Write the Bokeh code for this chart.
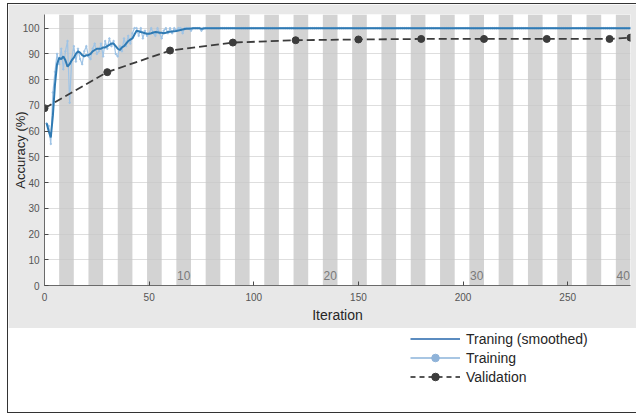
from bokeh.plotting import figure
from bokeh.models import Range1d, ColumnDataSource, Legend, LegendItem, FixedTicker
from bokeh.layouts import column
from bokeh.embed import file_html
from bokeh.resources import INLINE
from bokeh.core.properties import value

FONT = "Liberation Sans"

# ---------------- data ----------------
iterations_per_epoch = 7
num_epochs = 40
epoch_labels = [10, 20, 30, 40]

train_iter = list(range(1, 281))
train_acc = [
    63, 62, 55, 75, 83, 90, 86, 92, 84, 91,
    95, 71, 88, 93, 87, 92, 88, 86, 91, 93,
    89, 88, 92, 94, 90, 91, 94, 89, 95, 92,
    96, 93, 95, 90, 89, 93, 91, 96, 93, 97,
    94, 98, 100, 100, 97, 100, 96, 99, 97, 98,
    100, 98, 97, 100, 98, 96, 99, 100, 98, 100,
    98, 100, 99, 100, 100, 98, 100, 100, 100, 99,
    100, 100, 100, 100, 99, 100, 100, 100, 100, 100,
] + [
    100, 100, 100, 100, 100, 100, 100, 100, 100, 100, 100, 100, 100, 100, 100, 100, 100, 100, 100, 100,
    100, 100, 100, 100, 100, 100, 100, 100, 100, 100, 100, 100, 100, 100, 100, 100, 100, 100, 100, 100,
    100, 100, 100, 100, 100, 100, 100, 100, 100, 100, 100, 100, 100, 100, 100, 100, 100, 100, 100, 100,
    100, 100, 100, 100, 100, 100, 100, 100, 100, 100, 100, 100, 100, 100, 100, 100, 100, 100, 100, 100,
    100, 100, 100, 100, 100, 100, 100, 100, 100, 100, 100, 100, 100, 100, 100, 100, 100, 100, 100, 100,
    100, 100, 100, 100, 100, 100, 100, 100, 100, 100, 100, 100, 100, 100, 100, 100, 100, 100, 100, 100,
    100, 100, 100, 100, 100, 100, 100, 100, 100, 100, 100, 100, 100, 100, 100, 100, 100, 100, 100, 100,
    100, 100, 100, 100, 100, 100, 100, 100, 100, 100, 100, 100, 100, 100, 100, 100, 100, 100, 100, 100,
    100, 100, 100, 100, 100, 100, 100, 100, 100, 100, 100, 100, 100, 100, 100, 100, 100, 100, 100, 100,
    100, 100, 100, 100, 100, 100, 100, 100, 100, 100, 100, 100, 100, 100, 100, 100, 100, 100, 100, 100,
]
smooth_acc = [
    63, 60, 57.5, 66, 78, 86, 88.5, 88, 89, 87.5,
    85, 86, 87.5, 88.5, 90, 91, 90.5, 89.5, 89, 89.5,
    89.5, 90, 91, 91.5, 92, 92, 92, 92.5, 92.5, 93,
    93.5, 94, 94, 93, 92, 91.5, 92.5, 93, 94, 95,
    95.5, 96, 97.5, 99, 98.8, 98.5, 98.3, 98, 97.8, 97.8,
    98, 98.3, 98.5, 98.4, 98.2, 98.2, 98, 98.2, 98.5, 98.6,
    98.7, 98.8, 98.9, 99.1, 99.3, 99.5, 99.7, 99.8, 99.8, 99.9,
    100, 100, 100, 100, 99.8, 99.9, 100, 100, 100, 100,
] + [100] * 200

val_iter = [0, 30, 60, 90, 120, 150, 180, 210, 240, 270, 280]
val_acc = [68.9, 82.9, 91.3, 94.4, 95.3, 95.6, 95.8, 95.8, 95.8, 95.8, 96.3]

y_ticks = [0, 10, 20, 30, 40, 50, 60, 70, 80, 90, 100]
x_ticks = [0, 50, 100, 150, 200, 250]

# ---------------- styles ----------------
SMOOTH_C = "#2f7ab3"
RAW_C = "#9fc4e6"
VAL_C = "#3c3c3c"
BAND_C = "#d3d3d3"
BORDER_C = "#e8e8e8"
LEFT = 36

p = figure(width=628, height=324, output_backend="svg", toolbar_location=None,
           x_range=Range1d(0, 280), y_range=Range1d(0, 105.3),
           min_border_left=LEFT, min_border_right=6, min_border_top=10, min_border_bottom=43)
p.border_fill_color = BORDER_C
p.background_fill_color = "white"
p.outline_line_color = None

# epoch bands (even epochs shaded)
band_left = [(e - 1) * iterations_per_epoch for e in range(2, num_epochs + 1, 2)]
band_right = [e * iterations_per_epoch for e in range(2, num_epochs + 1, 2)]
bands = p.quad(left=band_left, right=band_right, bottom=0, top=105.3,
               fill_color=BAND_C, line_color=None)
bands.level = "image"

# epoch labels
p.text(x=[(e - 0.5) * iterations_per_epoch for e in epoch_labels], y=[2] * len(epoch_labels),
       text=[str(e) for e in epoch_labels], text_align="center", text_baseline="bottom",
       text_font=value(FONT), text_font_size="12px", text_color="#7a7a7a")

raw_r = p.line(train_iter, train_acc, line_color=RAW_C, line_width=1.2)
raw_m = p.scatter(train_iter, train_acc, size=1.5, color=RAW_C)
smooth_r = p.line(train_iter, smooth_acc, line_color=SMOOTH_C, line_width=2)
val_l = p.line(val_iter, val_acc, line_color=VAL_C, line_width=1.8, line_dash="8 4")
val_m = p.scatter(val_iter, val_acc, size=7, color=VAL_C)

# axes
for ax in (p.xaxis[0], p.yaxis[0]):
    ax.major_tick_in = 4
    ax.major_tick_out = 0
    ax.minor_tick_in = 0
    ax.minor_tick_out = 0
    ax.axis_line_color = "#6a6a6a"
    ax.major_tick_line_color = "#4a4a4a"
    ax.major_label_text_font = FONT
    ax.major_label_text_font_size = "10px"
    ax.major_label_text_color = "#555555"
    ax.axis_label_text_font = FONT
    ax.axis_label_text_font_style = "normal"
    ax.axis_label_text_color = "#262626"

p.yaxis[0].ticker = FixedTicker(ticks=y_ticks)
p.xaxis[0].ticker = FixedTicker(ticks=x_ticks)
p.yaxis[0].axis_label = "Accuracy (%)"
p.yaxis[0].axis_label_text_font_size = "13px"
p.yaxis[0].axis_label_standoff = -8
p.yaxis[0].major_label_standoff = 5
p.xaxis[0].axis_label = "Iteration"
p.xaxis[0].axis_label_text_font_size = "14px"
p.xaxis[0].axis_label_standoff = 3
p.xaxis[0].major_label_standoff = 7

p.xgrid.visible = False
p.ygrid.ticker = FixedTicker(ticks=y_ticks)
p.ygrid.grid_line_color = "#c8c8c8"
p.ygrid.grid_line_alpha = 0.6

# ---------------- legend panel ----------------
q = figure(width=628, height=84, output_backend="svg", toolbar_location=None,
           x_range=Range1d(0, 1), y_range=Range1d(0, 1),
           x_axis_location=None, y_axis_location=None, min_border=0)
q.grid.visible = False
q.outline_line_color = None
q.background_fill_color = "white"
q.border_fill_color = "white"

def dummy():
    return ColumnDataSource(dict(x=[5, 6], y=[5, 6]))

l1 = q.line("x", "y", source=dummy(), line_color="#5b8cc0", line_width=2)
l2 = q.line("x", "y", source=dummy(), line_color="#a8c6e3", line_width=2)
m2 = q.scatter("x", "y", source=dummy(), size=5, color="#8fb3d9")
l3 = q.line("x", "y", source=dummy(), line_color="#555555", line_width=1.8, line_dash="5 4")
m3 = q.scatter("x", "y", source=dummy(), size=7, color="#3c3c3c")

legend = Legend(items=[
    LegendItem(label="Traning (smoothed)", renderers=[l1]),
    LegendItem(label="Training", renderers=[l2, m2]),
    LegendItem(label="Validation", renderers=[l3, m3]),
], location=(402 - LEFT, 26))
legend.background_fill_alpha = 0
legend.border_line_color = None
legend.margin = 0
legend.padding = 0
legend.spacing = 0
legend.glyph_width = 50
legend.glyph_height = 19
legend.label_height = 19
legend.label_standoff = 6
legend.label_text_font = FONT
legend.label_text_font_size = "14px"
legend.label_text_color = "#262626"
q.add_layout(legend, "center")

layout = column(p, q, spacing=0, styles={
    "margin-left": "7px", "margin-top": "3px",
    "border-left": "1px solid #333333", "border-top": "1px solid #333333",
    "border-bottom": "1px solid #333333"})
open("out.html", "w").write(file_html(layout, INLINE))
